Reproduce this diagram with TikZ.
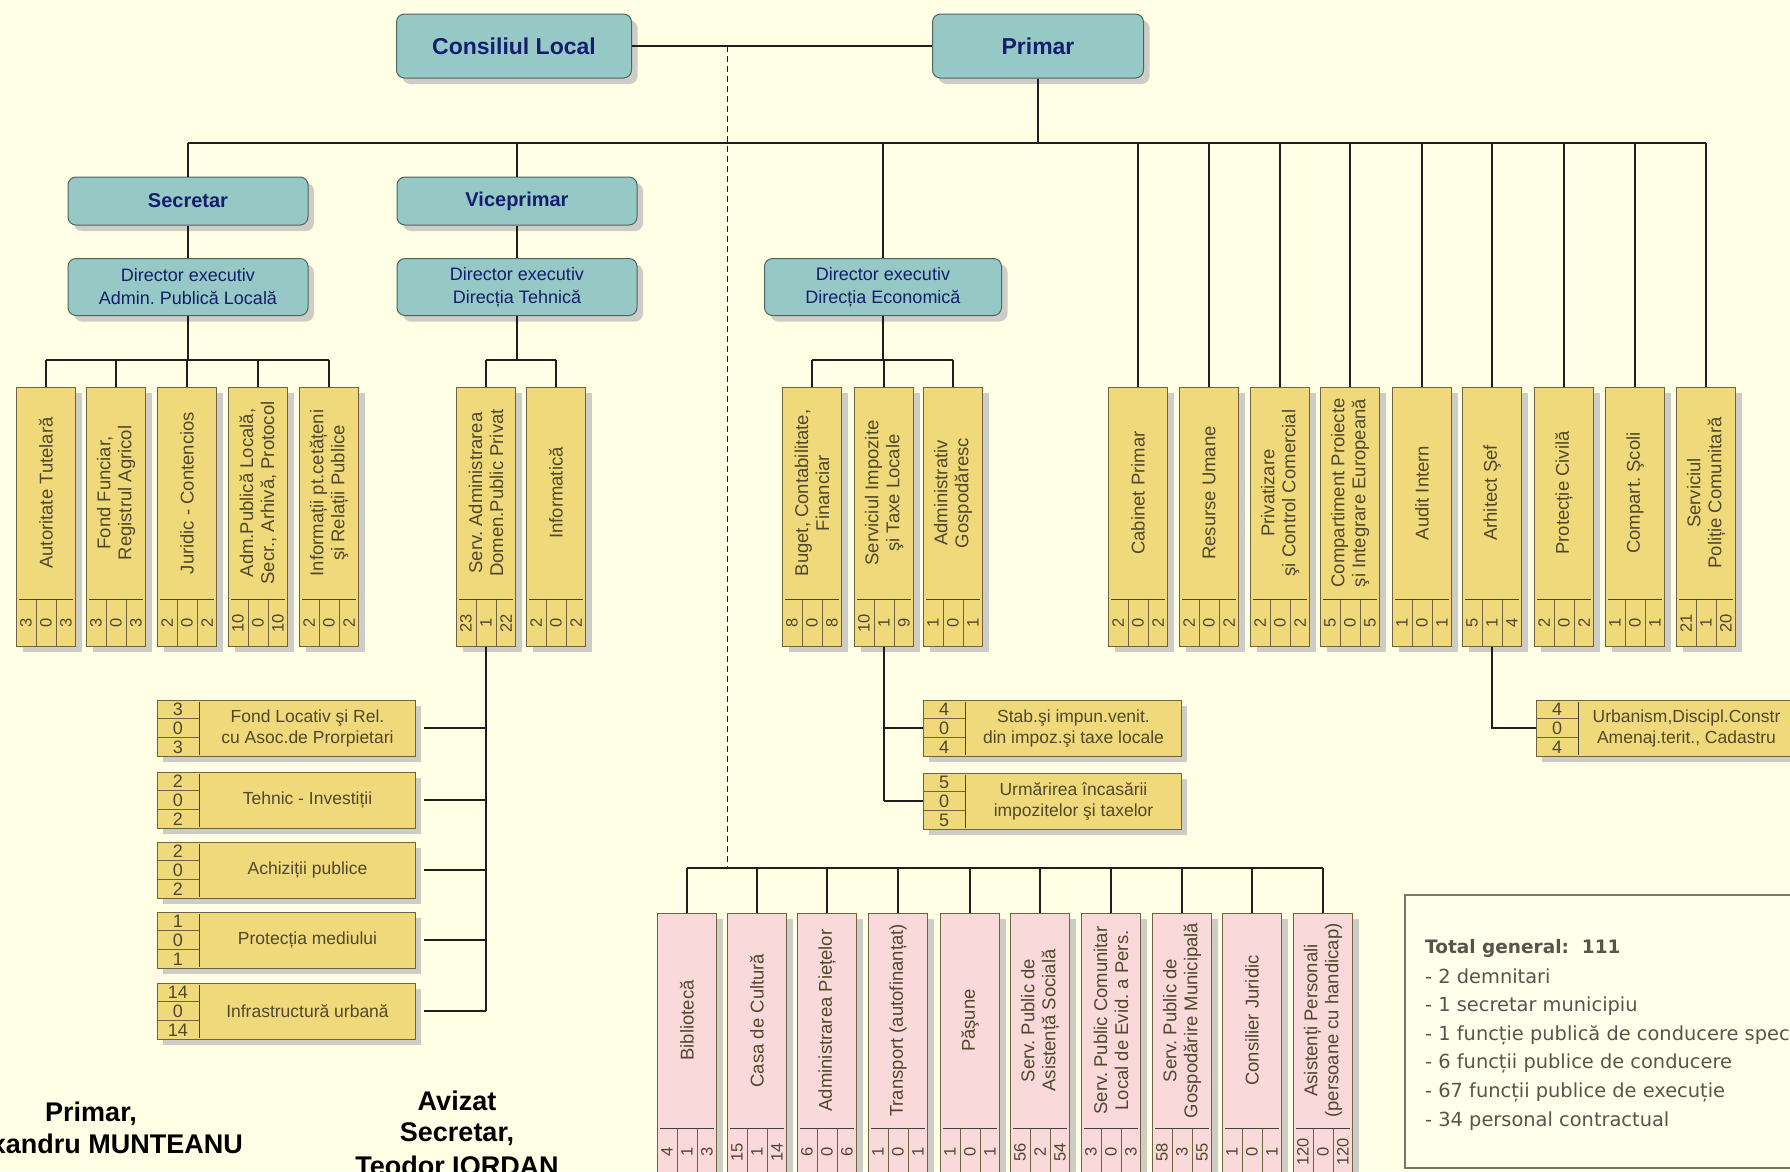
\documentclass[tikz,border=0pt]{standalone}
\usepackage{fontspec}
\setmainfont{Liberation Sans}
\newfontfamily\dejavu{DejaVu Sans}
\usetikzlibrary{calc,shadows}
\definecolor{bgc}{RGB}{255,255,230}
\definecolor{tealc}{RGB}{150,200,198}
\definecolor{tealbd}{RGB}{80,100,95}
\definecolor{navy}{RGB}{20,30,110}
\definecolor{yelc}{RGB}{240,217,122}
\definecolor{pinkc}{RGB}{249,217,217}
\definecolor{boxbd}{RGB}{110,100,65}
\definecolor{shc}{RGB}{205,205,198}
\definecolor{txtc}{RGB}{80,72,45}
\definecolor{linec}{RGB}{30,30,30}
\definecolor{totc}{RGB}{85,85,75}
\definecolor{totbd}{RGB}{120,120,100}
\definecolor{totfill}{RGB}{255,255,236}
\newcommand\fs[2]{\fontsize{#1}{#2}\selectfont}
\tikzset{
  shad/.style={drop shadow={shadow xshift=6pt,shadow yshift=-6pt,fill=shc,opacity=1}},
  tealbox/.style={draw=tealbd, line width=1pt, fill=tealc, rounded corners=8pt, shad, text=navy, inner sep=0pt},
  topbox/.style={tealbox, font=\bfseries\fs{23}{27}, minimum height=64pt},
  midbox/.style={tealbox, font=\bfseries\fs{20}{24}, minimum width=240pt, minimum height=48pt},
  dirbox/.style={tealbox, font=\fs{18}{23}, align=center, minimum width=240pt, minimum height=57pt},
  ybox/.style={draw=boxbd, line width=1pt, fill=yelc, shad, minimum width=59pt, minimum height=259pt, inner sep=0pt},
  pbox/.style={ybox, fill=pinkc, minimum height=262pt},
  sbox/.style={draw=boxbd, line width=1pt, fill=yelc, shad, minimum width=258pt, minimum height=56pt, inner sep=0pt},
  btxt/.style={text=txtc, font=\fs{18.5}{21}, align=center, inner sep=0pt},
  ntxt/.style={text=txtc, font=\fs{16.5}{16.5}, inner sep=0pt},
  ntxth/.style={text=txtc, font=\fs{18}{18}, inner sep=0pt},
  divl/.style={draw=linec!85, line width=1.8pt},
  celll/.style={draw=boxbd, line width=0.8pt},
  conn/.style={draw=linec, line width=1.3pt},
  sig/.style={font=\bfseries\fs{27}{31}, text=black, inner sep=0pt},
  tot/.style={text=totc, font=\dejavu\fs{19.4}{22}, inner sep=0pt, anchor=base west},
}
% tall box: name, style, x, y, text, n1, n2, n3
\newcommand\tallbox[8]{%
  \node[#2] (#1) at (#3,#4) {};
  \node[btxt, rotate=90] (#1t) at ([yshift=23.5pt]#1.center) {#5};
  \draw[celll] ($(#1.south west)!1/3!(#1.south east)$) -- ++(0,-47);
  \draw[celll] ($(#1.south west)!2/3!(#1.south east)$) -- ++(0,-47);
  \draw[divl] ([xshift=3pt,yshift=47pt]#1.south west) -- ([xshift=-3pt,yshift=47pt]#1.south east);
  \node[ntxt, rotate=90] (#1a) at ($(#1.south west)!1/6!(#1.south east)+(0,-23.5)$) {#6};
  \node[ntxt, rotate=90] (#1b) at ($(#1.south west)!3/6!(#1.south east)+(0,-23.5)$) {#7};
  \node[ntxt, rotate=90] (#1c) at ($(#1.south west)!5/6!(#1.south east)+(0,-23.5)$) {#8};
}
% side box: name, x, y, text, n1, n2, n3
\newcommand\sidebox[7]{%
  \node[sbox] (#1) at (#2,#3) {};
  \draw[celll] ($(#1.north west)!1/3!(#1.south west)$) -- ++(43,0);
  \draw[celll] ($(#1.north west)!2/3!(#1.south west)$) -- ++(43,0);
  \draw[divl] ([xshift=43pt,yshift=-2pt]#1.north west) -- ([xshift=43pt,yshift=2pt]#1.south west);
  \node[ntxth] (#1a) at ($(#1.north west)!1/6!(#1.south west)+(21.5,0)$) {#5};
  \node[ntxth] (#1b) at ($(#1.north west)!3/6!(#1.south west)+(21.5,0)$) {#6};
  \node[ntxth] (#1c) at ($(#1.north west)!5/6!(#1.south west)+(21.5,0)$) {#7};
  \node[btxt, font=\fs{17.5}{21}] (#1t) at ([xshift=21.5pt]#1.center) {#4};
}
\begin{document}
\frenchspacing
\begin{tikzpicture}[x=1pt,y=-1pt]
\fill[bgc] (0,0) rectangle (1790,1171);
\useasboundingbox (0,0) rectangle (1790,1171);

% ---- top level
\node[topbox, minimum width=235pt] (cl) at (514,46) {Consiliul Local};
\node[topbox, minimum width=211pt] (pr) at (1038,46) {Primar};
\node[midbox] (sec) at (188,201) {Secretar};
\node[midbox] (vp) at (517,201) {Viceprimar};
\node[dirbox] (d1) at (188,287) {Director executiv\\Admin. Publică Locală};
\node[dirbox] (d2) at (517,287) {Director executiv\\Direcția Tehnică};
\node[dirbox, minimum width=237pt] (d3) at (883,287) {Director executiv\\Direcția Economică};

\coordinate (busL) at (188,143);
\coordinate (busR) at (1706,143);
\coordinate (b3) at (0,360);
\coordinate (dt) at (727,46);
\coordinate (db) at (727,868);

% ---- tall yellow boxes
\tallbox{a1}{ybox}{46}{516.5}{Autoritate Tutelară}{3}{0}{3}
\tallbox{a2}{ybox}{116}{516.5}{Fond Funciar,\\Registrul Agricol}{3}{0}{3}
\tallbox{a3}{ybox}{187}{516.5}{Juridic - Contencios}{2}{0}{2}
\tallbox{a4}{ybox}{258}{516.5}{Adm.Publică Locală,\\Secr., Arhivă, Protocol}{10}{0}{10}
\tallbox{a5}{ybox}{329}{516.5}{Informații pt.cetățeni\\şi Relații Publice}{2}{0}{2}
\tallbox{t1}{ybox}{486}{516.5}{Serv. Administrarea\\Domen.Public Privat}{23}{1}{22}
\tallbox{t2}{ybox}{556}{516.5}{Informatică}{2}{0}{2}
\tallbox{e1}{ybox}{812}{516.5}{Buget, Contabilitate,\\Financiar}{8}{0}{8}
\tallbox{e2}{ybox}{884}{516.5}{Serviciul Impozite\\şi Taxe Locale}{10}{1}{9}
\tallbox{e3}{ybox}{953}{516.5}{Administrativ\\Gospodăresc}{1}{0}{1}
\tallbox{r1}{ybox}{1138}{516.5}{Cabinet Primar}{2}{0}{2}
\tallbox{r2}{ybox}{1209}{516.5}{Resurse Umane}{2}{0}{2}
\tallbox{r3}{ybox}{1280}{516.5}{Privatizare\\şi Control Comercial}{2}{0}{2}
\tallbox{r4}{ybox}{1350}{516.5}{Compartiment Proiecte\\şi Integrare Europeană}{5}{0}{5}
\tallbox{r5}{ybox}{1422}{516.5}{Audit Intern}{1}{0}{1}
\tallbox{r6}{ybox}{1492}{516.5}{Arhitect Şef}{5}{1}{4}
\tallbox{r7}{ybox}{1564}{516.5}{Protecție Civilă}{2}{0}{2}
\tallbox{r8}{ybox}{1635}{516.5}{Compart. Şcoli}{1}{0}{1}
\tallbox{r9}{ybox}{1706}{516.5}{Serviciul\\Poliție Comunitară}{21}{1}{20}

% ---- pink boxes
\tallbox{p1}{pbox}{687}{1044}{Bibliotecă}{4}{1}{3}
\tallbox{p2}{pbox}{757}{1044}{Casa de Cultură}{15}{1}{14}
\tallbox{p3}{pbox}{827}{1044}{Administrarea Piețelor}{6}{0}{6}
\tallbox{p4}{pbox}{898}{1044}{Transport (autofinanțat)}{1}{0}{1}
\tallbox{p5}{pbox}{970}{1044}{Păşune}{1}{0}{1}
\tallbox{p6}{pbox}{1040}{1044}{Serv. Public de\\Asistență Socială}{56}{2}{54}
\tallbox{p7}{pbox}{1111}{1044}{Serv. Public Comunitar\\Local de Evid. a Pers.}{3}{0}{3}
\tallbox{p8}{pbox}{1182}{1044}{Serv. Public de\\Gospodărire Municipală}{58}{3}{55}
\tallbox{p9}{pbox}{1252}{1044}{Consilier Juridic}{1}{0}{1}
\tallbox{p10}{pbox}{1323}{1044}{Asistenți Personali\\(persoane cu handicap)}{120}{0}{120}

% ---- side boxes
\sidebox{s1}{286}{728}{Fond Locativ şi Rel.\\cu Asoc.de Prorpietari}{3}{0}{3}
\sidebox{s2}{286}{800}{Tehnic - Investiții}{2}{0}{2}
\sidebox{s3}{286}{870}{Achiziții publice}{2}{0}{2}
\sidebox{s4}{286}{940}{Protecția mediului}{1}{0}{1}
\sidebox{s5}{286}{1011}{Infrastructură urbană}{14}{0}{14}
\sidebox{ec1}{1052}{728}{Stab.şi impun.venit.\\din impoz.şi taxe locale}{4}{0}{4}
\sidebox{ec2}{1052}{801}{Urmărirea încasării\\impozitelor şi taxelor}{5}{0}{5}
\sidebox{ub}{1665}{728}{Urbanism,Discipl.Constr\\Amenaj.terit., Cadastru}{4}{0}{4}

% ---- connectors
\draw[conn, line width=1.8pt] (cl.east) -- (pr.west);
\draw[conn, line width=1pt, dash pattern=on 6pt off 4pt] (dt) -- (db);
\draw[conn] (pr.south) -- (pr.south |- busL);
\draw[conn, line width=1.8pt] (busL) -- (busR);
\draw[conn] (busL) -- (sec.north);
\draw[conn] (vp.north |- busL) -- (vp.north);
\draw[conn] (d3.north |- busL) -- (d3.north);
\foreach \n in {r1,r2,r3,r4,r5,r6,r7,r8,r9} {\draw[conn] (\n.north |- busL) -- (\n.north);}
\draw[conn] (sec) -- (d1);
\draw[conn] (vp) -- (d2);
\draw[conn] (d1.south) -- (d1.south |- b3);
\draw[conn] (d2.south) -- (d2.south |- b3);
\draw[conn] (d3.south) -- (d3.south |- b3);
\draw[conn] (a1.north |- b3) -- (a5.north |- b3);
\draw[conn] (t1.north |- b3) -- (t2.north |- b3);
\draw[conn] (e1.north |- b3) -- (e3.north |- b3);
\foreach \n in {a1,a2,a3,a4,a5,t1,t2,e1,e2,e3} {\draw[conn] (\n.north |- b3) -- (\n.north);}
\draw[conn] (p1.north |- db) -- (p10.north |- db);
\foreach \n in {p1,p2,p3,p4,p5,p6,p7,p8,p9,p10} {\draw[conn] (\n.north |- db) -- (\n.north);}
\draw[conn] (t1.south) -- (t1.south |- s5.east);
\foreach \n in {s1,s2,s3,s4,s5} {\draw[conn] ([xshift=8pt]\n.east) -- (\n.east -| t1.south);}
\draw[conn] (e2.south) -- (e2.south |- ec2.west);
\draw[conn] (ec1.west -| e2.south) -- (ec1.west);
\draw[conn] (ec2.west -| e2.south) -- (ec2.west);
\draw[conn] (r6.south) |- (ub.west);

% ---- totals
\node[draw=totbd, line width=1.5pt, fill=totfill, minimum width=400pt, minimum height=273pt, anchor=north west, inner sep=0pt] (tot) at (1404,894) {};
\node[tot, font=\dejavu\bfseries\fs{18.5}{22}] (tt0) at (1425,953) {Total general:\ \ 111};
\node[tot] (tt1) at (1425,983) {- 2 demnitari};
\node[tot] (tt2) at (1425,1011) {- 1 secretar municipiu};
\node[tot] (tt3) at (1425,1040) {- 1 funcție publică de conducere specifică};
\node[tot] (tt4) at (1425,1068) {- 6 funcții publice de conducere};
\node[tot] (tt5) at (1425,1097) {- 67 funcții publice de execuție};
\node[tot] (tt6) at (1425,1126) {- 34 personal contractual};

% ---- signatures
\node[sig, anchor=base] (sg1) at (91,1121) {Primar,};
\node[sig, anchor=base east] (sg2) at (243,1153) {Alexandru MUNTEANU};
\node[sig, anchor=base] (sg3) at (457,1110) {Avizat};
\node[sig, anchor=base] (sg4) at (457,1141) {Secretar,};
\node[sig, anchor=base] (sg5) at (457,1175) {Teodor IORDAN};
\end{tikzpicture}
\end{document}
